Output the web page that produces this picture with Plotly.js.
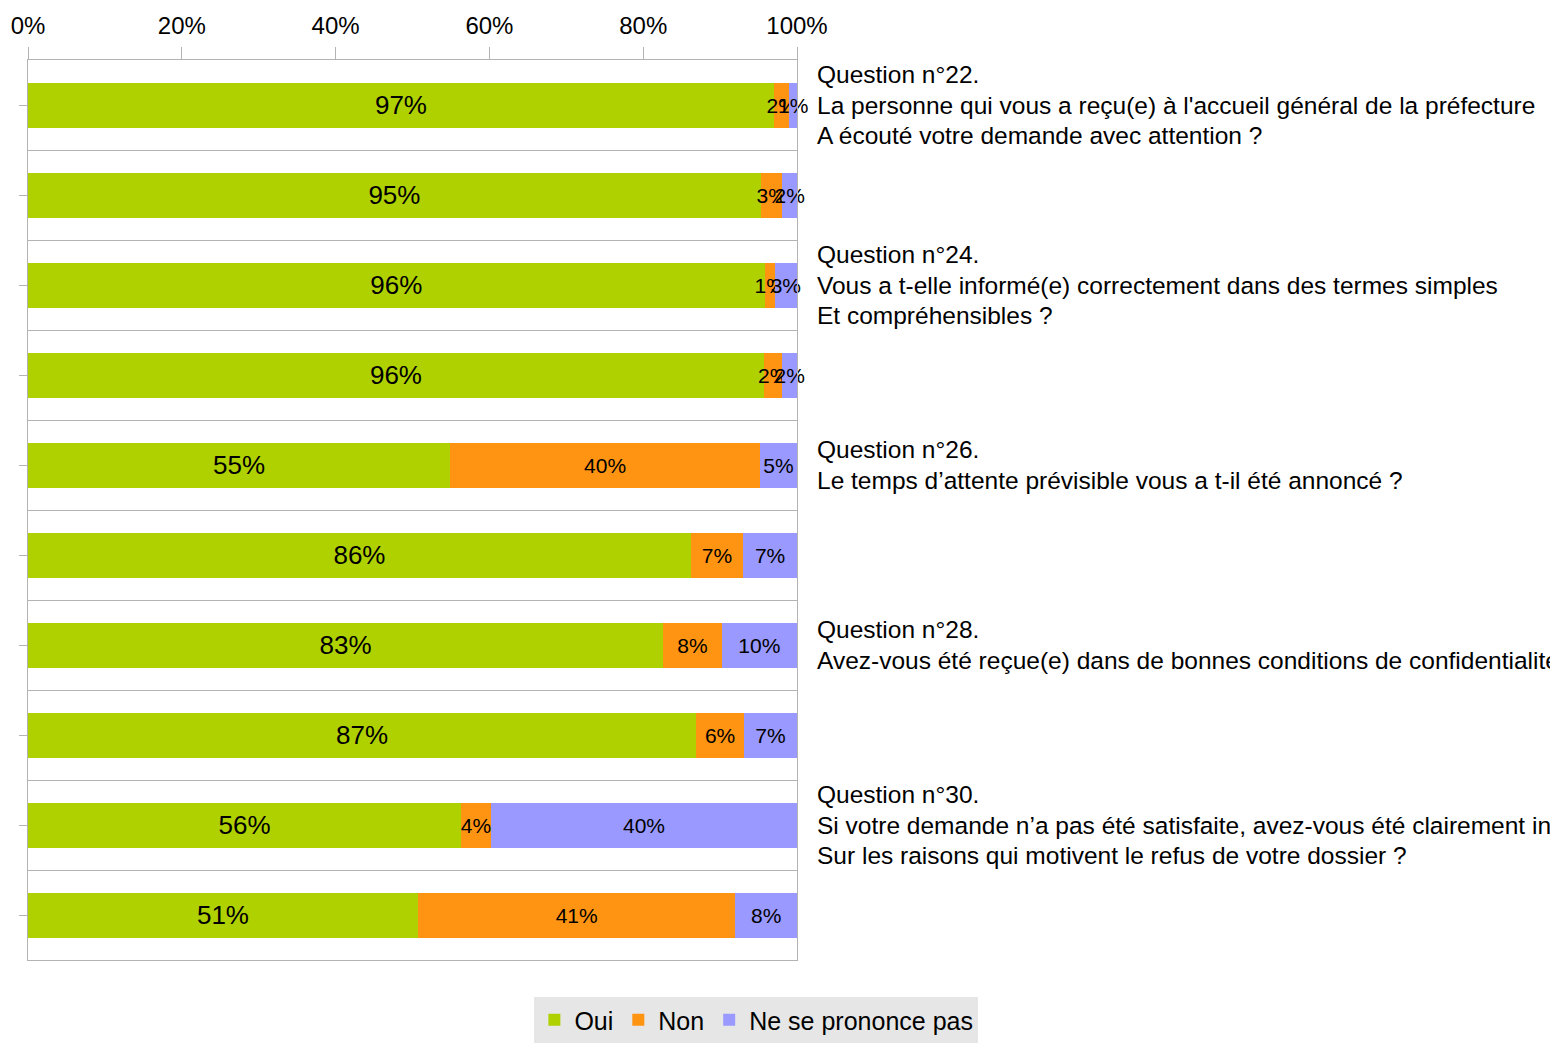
<!DOCTYPE html>
<html>
<head>
<meta charset="utf-8">
<script src="https://cdn.plot.ly/plotly-3.0.1.min.js"></script>
<style>html,body{margin:0;padding:0;background:#fff;}#chart{width:1550px;height:1043px;}</style>
</head>
<body>
<div id="chart"></div>
<script>
const rows = [0, 1, 2, 3, 4, 5, 6, 7, 8, 9];
const oui = [97.0, 95.3, 95.8, 95.7, 54.9, 86.2, 82.6, 86.9, 56.3, 50.7];
const non = [2.0, 2.8, 1.3, 2.4, 40.3, 6.8, 7.6, 6.2, 3.9, 41.3];
const nsp = [1.0, 1.9, 2.9, 1.9, 4.8, 7.0, 9.8, 6.9, 39.8, 8.0];
const seriesNames = ["Oui", "Non", "Ne se prononce pas"];
const colors = ["#b0d100", "#ff9412", "#9999ff"];
const xTicks = [0, 20, 40, 60, 80, 100];
const xTickLabels = ["0%", "20%", "40%", "60%", "80%", "100%"];
const questionRows = [0, 2, 4, 6, 8];
const questionLines = [
  ["Question n°22.", "La personne qui vous a reçu(e) à l'accueil général de la préfecture", "A écouté votre demande avec attention ?"],
  ["Question n°24.", "Vous a t-elle informé(e) correctement dans des termes simples", "Et compréhensibles ?"],
  ["Question n°26.", "Le temps d’attente prévisible vous a t-il été annoncé ?"],
  ["Question n°28.", "Avez-vous été reçue(e) dans de bonnes conditions de confidentialité ?"],
  ["Question n°30.", "Si votre demande n’a pas été satisfaite, avez-vous été clairement informé(e)", "Sur les raisons qui motivent le refus de votre dossier ?"]
];

const FONT = "Liberation Sans, Arial, sans-serif";
const vals = [oui, non, nsp];
const traces = vals.map((v, i) => ({
  type: "bar",
  orientation: "h",
  name: seriesNames[i],
  x: v,
  y: rows,
  width: 0.5,
  marker: {color: colors[i], line: {width: 0}},
  texttemplate: "%{x:.0f}%",
  textposition: "inside",
  insidetextanchor: "middle",
  constraintext: "none",
  textangle: 0,
  cliponaxis: false,
  textfont: {family: FONT, size: i === 0 ? 26 : 21, color: "#000"},
  hoverinfo: "none"
}));

const LINE = 30.5;
const annotations = [];
questionRows.forEach((r, i) => {
  const lines = questionLines[i];
  const n = lines.length;
  lines.forEach((t, k) => {
    annotations.push({
      xref: "paper", yref: "y",
      x: 1, y: r,
      xshift: 18,
      yshift: ((n - 1) / 2 - k) * LINE,
      xanchor: "left", yanchor: "middle",
      align: "left",
      showarrow: false,
      text: t,
      font: {family: FONT, size: 24.5, color: "#000"}
    });
  });
});

const layout = {
  width: 1550, height: 1043,
  margin: {l: 28, r: 753, t: 60, b: 83},
  paper_bgcolor: "#fff", plot_bgcolor: "#fff",
  barmode: "stack",
  showlegend: true,
  font: {family: FONT, color: "#000"},
  xaxis: {
    side: "top",
    range: [0, 100.0001],
    tickmode: "array",
    tickvals: xTicks,
    ticktext: xTickLabels,
    ticks: "outside",
    ticklen: 12,
    ticklabelstandoff: 3,
    tickcolor: "#b3b3b3",
    tickfont: {family: FONT, size: 24, color: "#000"},
    showgrid: false,
    zeroline: false,
    showline: true,
    mirror: true,
    linecolor: "#b3b3b3",
    linewidth: 1,
    fixedrange: true
  },
  yaxis: {
    range: [9.5, -0.5],
    tickmode: "array",
    tickvals: rows,
    showticklabels: false,
    ticks: "outside",
    ticklen: 8,
    tickcolor: "#b3b3b3",
    showgrid: false,
    zeroline: false,
    showline: true,
    mirror: true,
    linecolor: "#b3b3b3",
    linewidth: 1,
    minor: {tick0: 0.5, dtick: 1, showgrid: true, gridcolor: "#b3b3b3", gridwidth: 1, ticks: ""},
    fixedrange: true
  },
  legend: {
    orientation: "h",
    xref: "container", yref: "container",
    x: 0.488, xanchor: "center",
    y: 0, yanchor: "bottom",
    bgcolor: "#e6e6e6",
    font: {family: FONT, size: 25, color: "#000"},
    traceorder: "normal",
    itemclick: false, itemdoubleclick: false
  },
  annotations: annotations
};

Plotly.newPlot("chart", traces, layout, {displayModeBar: false, staticPlot: true});
</script>
</body>
</html>
